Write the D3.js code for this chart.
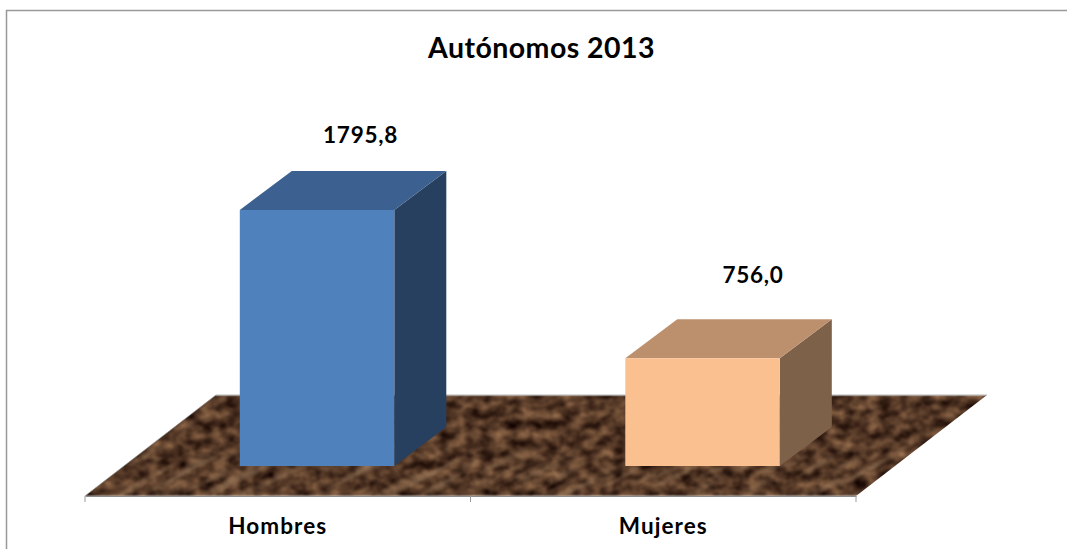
<!DOCTYPE html>
<html><head><meta charset="utf-8">
<script src="https://cdn.jsdelivr.net/npm/d3@7/dist/d3.min.js"></script>
<style>html,body{margin:0;padding:0;background:#fff;overflow:hidden}svg{display:block}text{font-family:Lato,"Noto Sans",sans-serif;font-weight:700;fill:#000}</style>
</head><body><svg id="c" width="1067" height="549"></svg>
<script>
const categories = ["Hombres", "Mujeres"];
const values = [1795.8, 756.0];
const valueLabels = ["1795,8", "756,0"];
const frontColors = ["#4f81bd", "#fac090"];
const topColors = ["#3c6190", "#bc906c"];
const sideColors = ["#284060", "#7e6149"];
const titleText = "Autónomos 2013";

const W = 1067, H = 549;
const svg = d3.select("#c").attr("viewBox", [0, 0, W, H]);
const axisLeft = 85, axisRight = 856, axisY = 496, floorBackY = 395, floorDx = 131;
const baseY = 466, depthX = 52, depthY = 39;
const x = d3.scaleBand().domain(categories).range([axisLeft, axisRight]).paddingInner(0).paddingOuter(0);
const y = d3.scaleLinear().domain([0, 1795.8]).range([baseY, 210]);
const barW = 154.5, barShift = 39.3;
const labelDx = [43.5, 50.5], labelGap = [67.5, 75];

const defs = svg.append("defs");
const f = defs.append("filter").attr("id", "wood").attr("x", 0).attr("y", 0).attr("width", 1).attr("height", 1)
  .attr("color-interpolation-filters", "sRGB");
f.append("feTurbulence").attr("type", "fractalNoise").attr("baseFrequency", "0.075 0.1").attr("numOctaves", 3).attr("seed", 11).attr("result", "n");
f.append("feColorMatrix").attr("in", "n").attr("type", "matrix").attr("result", "c").attr("values",
  "0.72 0 0 0 -0.03  0.58 0 0 0 -0.07  0.42 0 0 0 -0.06  0 0 0 0 1");
f.append("feGaussianBlur").attr("in", "c").attr("stdDeviation", 1);

const s = defs.append("filter").attr("id", "streak").attr("x", 0).attr("y", 0).attr("width", 1).attr("height", 1)
  .attr("color-interpolation-filters", "sRGB");
s.append("feTurbulence").attr("type", "fractalNoise").attr("baseFrequency", "0.014 0.12").attr("numOctaves", 2).attr("seed", 5);
s.append("feColorMatrix").attr("type", "matrix").attr("values",
  "0 0 0 0 0.62  0 0 0 0 0.5  0 0 0 0 0.38  2.6 0 0 0 -1.25");
s.append("feGaussianBlur").attr("stdDeviation", 1);

const fade = defs.append("linearGradient").attr("id", "fade").attr("x1", 0).attr("x2", 0).attr("y1", 0).attr("y2", 1);
fade.append("stop").attr("offset", "0.45").attr("stop-color", "#000");
fade.append("stop").attr("offset", "0.78").attr("stop-color", "#ccc");
fade.append("stop").attr("offset", "1").attr("stop-color", "#777");
defs.append("mask").attr("id", "fadeMask").attr("maskUnits", "userSpaceOnUse")
  .attr("x", axisLeft).attr("y", floorBackY).attr("width", 920).attr("height", axisY - floorBackY)
  .append("rect").attr("x", axisLeft).attr("y", floorBackY).attr("width", 920).attr("height", axisY - floorBackY).attr("fill", "url(#fade)");
defs.append("clipPath").attr("id", "floorClip").append("polygon")
  .attr("points", [[axisLeft, axisY], [axisRight, axisY], [axisRight + floorDx, floorBackY], [axisLeft + floorDx, floorBackY]].join(" "));

svg.append("path").attr("d", `M6.5 ${H}V10.5H${W}`).attr("fill", "none").attr("stroke", "#999").attr("stroke-width", 1.5);

const floor = svg.append("g");
const tex = floor.append("g").attr("clip-path", "url(#floorClip)");
tex.append("rect").attr("x", axisLeft).attr("y", floorBackY).attr("width", axisRight + floorDx - axisLeft).attr("height", axisY - floorBackY)
  .attr("filter", "url(#wood)");
tex.append("g").attr("mask", "url(#fadeMask)")
  .append("rect").attr("x", 100).attr("y", 300).attr("width", 800).attr("height", 400)
  .attr("transform", "rotate(-28 470 470)").attr("filter", "url(#streak)");
floor.append("path").attr("d", `M${axisLeft + floorDx} ${floorBackY}H${axisRight + floorDx}`).attr("stroke", "#b5b5b5").attr("stroke-width", 1).attr("fill", "none");
floor.append("path").attr("d", `M${axisLeft} ${axisY}L${axisLeft + floorDx} ${floorBackY}`).attr("stroke", "#8a8a8a").attr("stroke-width", .7).attr("fill", "none");

const axis = svg.append("g").attr("transform", `translate(0,${axisY})`).call(
  d3.axisBottom(x).tickSize(0).tickSizeOuter(0).tickPadding(22));
axis.select(".domain").attr("stroke", "#8c8c8c").attr("stroke-width", 1.2);
axis.selectAll("text").attr("font-size", 22.5).attr("letter-spacing", 1.05).attr("fill", "#000").style("font-family", 'Lato,"Noto Sans",sans-serif').attr("dy", "0.71em");
const tickX = [axisLeft, x(categories[1]), axisRight];
svg.append("g").selectAll("line").data(tickX).join("line")
  .attr("x1", d => d).attr("x2", d => d).attr("y1", axisY).attr("y2", axisY + 6).attr("stroke", "#9a9a9a").attr("stroke-width", 1);

const bars = svg.append("g").selectAll("g").data(categories).join("g");
const bx = d => x(d) + (x.bandwidth() - barW) / 2 + barShift;
const val = (d, i) => y(values[i]);
bars.append("polygon").attr("fill", (d, i) => sideColors[i]).attr("points", (d, i) => {
  const r = bx(d) + barW, t = val(d, i);
  return [[r, t], [r + depthX, t - depthY], [r + depthX, baseY - depthY], [r, baseY]].join(" ");
});
bars.append("polygon").attr("fill", (d, i) => topColors[i]).attr("points", (d, i) => {
  const l = bx(d), r = l + barW, t = val(d, i);
  return [[l, t], [r, t], [r + depthX, t - depthY], [l + depthX, t - depthY]].join(" ");
});
bars.append("rect").attr("fill", (d, i) => frontColors[i]).attr("x", bx).attr("width", barW)
  .attr("y", val).attr("height", (d, i) => baseY - val(d, i));

svg.append("g").selectAll("text").data(valueLabels).join("text")
  .attr("x", (d, i) => bx(categories[i]) + barW / 2 + labelDx[i]).attr("y", (d, i) => val(d, i) - labelGap[i])
  .attr("text-anchor", "middle").attr("font-size", 22.5).attr("letter-spacing", 0.75).text(d => d);
svg.append("text").attr("x", 541.5).attr("y", 58).attr("text-anchor", "middle").attr("font-size", 28.5).attr("letter-spacing", 0.45).text(titleText);
</script></body></html>
